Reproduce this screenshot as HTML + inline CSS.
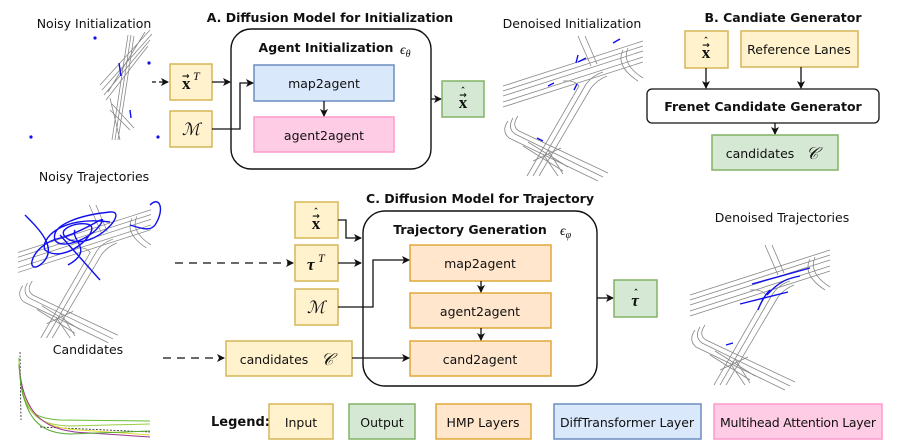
<!DOCTYPE html>
<html><head><meta charset="utf-8"><style>
html,body{margin:0;padding:0;background:#fff}
svg{display:block}
text{font-family:"DejaVu Sans","Liberation Sans",sans-serif;font-size:12.5px;fill:#111}
.b{font-weight:bold}
.m{font-family:"Liberation Serif","DejaVu Serif",serif;font-size:17px}
.s{font-family:"DejaVu Sans",sans-serif;font-size:9px;font-weight:bold}
.yl{fill:#fff2cc;stroke:#d6b656;stroke-width:1.5}
.gr{fill:#d5e8d4;stroke:#82b366;stroke-width:1.5}
.bl{fill:#dae8fc;stroke:#6c8ebf;stroke-width:1.5}
.pk{fill:#ffcce6;stroke:#ff99cc;stroke-width:1.5}
.or{fill:#ffe6cc;stroke:#e0a83a;stroke-width:1.5}
.ln{stroke:#111;stroke-width:1.3;fill:none}
.rd{stroke:#888;stroke-width:0.8;fill:none}
.tr{stroke:#1010ee;stroke-width:1.4;fill:none}
</style></head><body>
<svg width="897" height="444" viewBox="0 0 897 444" xmlns="http://www.w3.org/2000/svg">
<defs>
<marker id="ar" markerWidth="8" markerHeight="8" refX="7" refY="4" orient="auto" markerUnits="userSpaceOnUse"><path d="M0,0 L8,4 L0,8 L2,4 z" fill="#111"/></marker>
<g id="road">
<path class="rd" d="M0,50 L140,5 M0,55 L140,10 M0,60 L140,15 M0,66 L140,21 M0,71 L140,26"/>
<path class="rd" d="M30,140 L82,50 Q88,40 100,36 M36,140 L88,52 Q94,44 104,40 M24,140 L76,50 Q72,44 60,45"/>
<path class="rd" d="M5,85 Q-2,95 6,102 L95,145 M10,82 Q4,92 12,98 L100,141 M15,80 Q8,90 16,95 L105,137"/>
<path class="rd" d="M20,110 L60,135 M25,106 L65,131 M40,118 L55,140 M45,114 L60,138 M30,125 L58,112"/>
<path class="rd" d="M75,0 L88,30 M82,0 L94,28 M120,14 Q112,30 135,45 M125,12 Q118,28 140,42"/>
</g>
</defs>

<!-- Titles -->
<text x="330" y="22" text-anchor="middle" class="b">A. Diffusion Model for Initialization</text>
<text x="783" y="22" text-anchor="middle" class="b">B. Candiate Generator</text>
<text x="480" y="203" text-anchor="middle" class="b">C. Diffusion Model for Trajectory</text>
<text x="94" y="28" text-anchor="middle">Noisy Initialization</text>
<text x="572" y="28" text-anchor="middle">Denoised Initialization</text>
<text x="94" y="181" text-anchor="middle">Noisy Trajectories</text>
<text x="782" y="222" text-anchor="middle">Denoised Trajectories</text>
<text x="88" y="354" text-anchor="middle">Candidates</text>

<!-- Noisy init sketch -->
<g>
<path class="rd" d="M100,85 L150,30 M102,90 L152,34 M104,95 L150,40 M106,100 L148,46 M108,92 L145,32"/>
<path class="rd" d="M112,140 L128,35 M115,140 L131,35 M118,140 L134,36 M110,110 L130,130 M112,104 L134,128 M110,98 L120,140"/>
<circle cx="95" cy="38" r="1.6" fill="#11e"/><circle cx="149" cy="63" r="1.6" fill="#11e"/><circle cx="31" cy="137" r="1.6" fill="#11e"/><circle cx="158" cy="137" r="1.6" fill="#11e"/>
<path class="tr" d="M119,63 L121,76 M130,110 L131,118"/>
</g>

<!-- Denoised init sketch -->
<use href="#road" x="503" y="36"/>
<g class="tr"><path d="M576,63 L578,55 M578,62 L586,58 M548,86 L554,83 M574,90 L577,84 M537,138 L543,141 M613,43 L620,39"/></g>

<!-- Noisy trajectories sketch -->
<use href="#road" transform="translate(18,205) scale(0.95)"/>
<g class="tr">
<path d="M25,215 C40,230 60,250 40,265 C25,275 30,245 60,238 C90,230 110,210 100,225 C90,240 60,250 55,240 C50,225 80,215 110,212 C130,210 95,250 70,240 C50,230 80,220 90,225 C100,232 65,265 45,250 C40,240 60,215 110,222 M60,235 L100,280 M150,205 C160,195 165,210 155,225 C150,232 140,228 130,225 M75,230 C70,240 95,250 68,265"/>
</g>

<!-- Candidates sketch -->
<path d="M20,352 L21,420 M40,427 L150,432" stroke="#222" stroke-width="0.8" stroke-dasharray="2,1.5" fill="none"/>
<g fill="none" stroke-width="1">
<path d="M19,358 C20,410 30,418 60,420 L150,421" stroke="#66bb33"/>
<path d="M19,360 C21,412 35,425 70,426 L150,424" stroke="#99cc44"/>
<path d="M19,362 C22,414 40,428 80,430 L150,435" stroke="#dddd33"/>
<path d="M19,365 C23,416 45,432 90,433 L150,437" stroke="#993399"/>
<path d="M19,364 C22,420 40,433 70,434 L150,431" stroke="#55aa33"/>
</g>

<!-- Denoised traj sketch -->
<use href="#road" x="690" y="245"/>
<g class="tr"><path d="M752,284 L810,268 M740,304 L788,292 M767,295 C780,280 790,278 800,276 M758,310 C762,300 765,295 770,290 M726,345 L733,343"/></g>

<!-- Section A -->
<rect x="231" y="29" width="200" height="140" rx="20" fill="#fff" stroke="#111" stroke-width="1.4"/>
<text x="326" y="52" text-anchor="middle" class="b">Agent Initialization</text>
<text x="400" y="54" class="m" style="font-style:italic;font-size:14px">ϵ<tspan font-size="10" dy="3">θ</tspan></text>
<rect x="254" y="65" width="140" height="36" class="bl"/><text x="324" y="88" text-anchor="middle">map2agent</text>
<rect x="254" y="117" width="140" height="35" class="pk"/><text x="324" y="140" text-anchor="middle">agent2agent</text>
<path class="ln" d="M324,101 L324,116" marker-end="url(#ar)"/>
<rect x="170" y="64" width="42" height="36" class="yl"/>
<text x="182" y="89" class="m b">x</text><text x="182" y="79" class="s">→</text><text x="193" y="80" class="m" style="font-size:12px;font-style:italic">T</text>
<rect x="170" y="111" width="42" height="36" class="yl"/><text x="191" y="135" text-anchor="middle" class="m" style="font-style:italic;font-family:'DejaVu Serif',serif">ℳ</text>
<path class="ln" d="M152,82 L168,82" stroke-dasharray="4,3" marker-end="url(#ar)"/>
<path class="ln" d="M212,82 L230,82" marker-end="url(#ar)"/>
<path class="ln" d="M212,129 L240,129 L240,83 L253,83" marker-end="url(#ar)"/>
<path class="ln" d="M431,99 L441,99" marker-end="url(#ar)"/>
<rect x="442" y="81" width="42" height="36" class="gr"/>
<text x="463" y="108" text-anchor="middle" class="m b">x</text><text x="463" y="98" text-anchor="middle" class="s">→</text><text x="463" y="94" text-anchor="middle" class="s">ˆ</text>

<!-- Section B -->
<rect x="685" y="31" width="43" height="37" class="yl"/>
<text x="706" y="58" text-anchor="middle" class="m b">x</text><text x="706" y="48" text-anchor="middle" class="s">→</text><text x="706" y="44" text-anchor="middle" class="s">ˆ</text>
<rect x="741" y="31" width="117" height="36" class="yl"/><text x="799" y="54" text-anchor="middle">Reference Lanes</text>
<rect x="647" y="89" width="232" height="34" rx="5" fill="#fff" stroke="#111" stroke-width="1.3"/>
<text x="763" y="111" text-anchor="middle" class="b">Frenet Candidate Generator</text>
<path class="ln" d="M706,68 L706,88" marker-end="url(#ar)"/>
<path class="ln" d="M801,67 L801,88" marker-end="url(#ar)"/>
<path class="ln" d="M775,123 L775,134" marker-end="url(#ar)"/>
<rect x="712" y="135" width="126" height="35" class="gr"/><text x="760" y="158" text-anchor="middle">candidates</text><text x="806" y="159" class="m" style="font-style:italic">𝒞</text>

<!-- Section C -->
<rect x="363" y="211" width="234" height="175" rx="22" fill="#fff" stroke="#111" stroke-width="1.4"/>
<text x="470" y="234" text-anchor="middle" class="b">Trajectory Generation</text>
<text x="560" y="235" class="m" style="font-style:italic;font-size:14px">ϵ<tspan font-size="10" dy="3">φ</tspan></text>
<rect x="410" y="245" width="141" height="36" class="or"/><text x="480" y="268" text-anchor="middle">map2agent</text>
<rect x="410" y="293" width="141" height="35" class="or"/><text x="480" y="316" text-anchor="middle">agent2agent</text>
<rect x="410" y="341" width="141" height="35" class="or"/><text x="480" y="364" text-anchor="middle">cand2agent</text>
<path class="ln" d="M481,281 L481,292" marker-end="url(#ar)"/>
<path class="ln" d="M481,328 L481,340" marker-end="url(#ar)"/>
<rect x="295" y="202" width="43" height="36" class="yl"/>
<text x="316" y="229" text-anchor="middle" class="m b">x</text><text x="316" y="219" text-anchor="middle" class="s">→</text><text x="316" y="215" text-anchor="middle" class="s">ˆ</text>
<rect x="295" y="245" width="43" height="36" class="yl"/>
<text x="307" y="270" class="m b" style="font-style:italic">τ</text><text x="318" y="262" class="m" style="font-size:12px;font-style:italic">T</text>
<rect x="295" y="289" width="43" height="36" class="yl"/><text x="316" y="313" text-anchor="middle" class="m" style="font-family:'DejaVu Serif',serif;font-style:italic">ℳ</text>
<path class="ln" d="M338,220 L346,220 L346,238 L361,238" marker-end="url(#ar)"/>
<path class="ln" d="M338,263 L361,263" marker-end="url(#ar)"/>
<path class="ln" d="M338,307 L373,307 L373,260 L409,260" marker-end="url(#ar)"/>
<path class="ln" d="M175,263 L293,263" stroke-dasharray="8,6" marker-end="url(#ar)"/>
<rect x="226" y="341" width="126" height="35" class="yl"/><text x="274" y="364" text-anchor="middle">candidates</text><text x="321" y="365" class="m" style="font-style:italic">𝒞</text>
<path class="ln" d="M163,358 L224,358" stroke-dasharray="8,6" marker-end="url(#ar)"/>
<path class="ln" d="M352,358 L409,358" marker-end="url(#ar)"/>
<path class="ln" d="M597,298 L613,298" marker-end="url(#ar)"/>
<rect x="614" y="280" width="43" height="37" class="gr"/>
<text x="635" y="306" text-anchor="middle" class="m b" style="font-style:italic">τ</text><text x="636" y="296" text-anchor="middle" class="s">ˆ</text>

<!-- Legend -->
<text x="211" y="426" class="b" style="font-size:13px">Legend:</text>
<rect x="269" y="404" width="64" height="35" class="yl"/><text x="301" y="427" text-anchor="middle">Input</text>
<rect x="349" y="404" width="66" height="35" class="gr"/><text x="382" y="427" text-anchor="middle">Output</text>
<rect x="436" y="404" width="95" height="35" class="or"/><text x="483" y="427" text-anchor="middle">HMP Layers</text>
<rect x="554" y="404" width="147" height="35" class="bl"/><text x="627" y="427" text-anchor="middle" textLength="134">DiffTransformer Layer</text>
<rect x="714" y="404" width="168" height="35" class="pk"/><text x="798" y="427" text-anchor="middle" textLength="156">Multihead Attention Layer</text>
</svg>
</body></html>
